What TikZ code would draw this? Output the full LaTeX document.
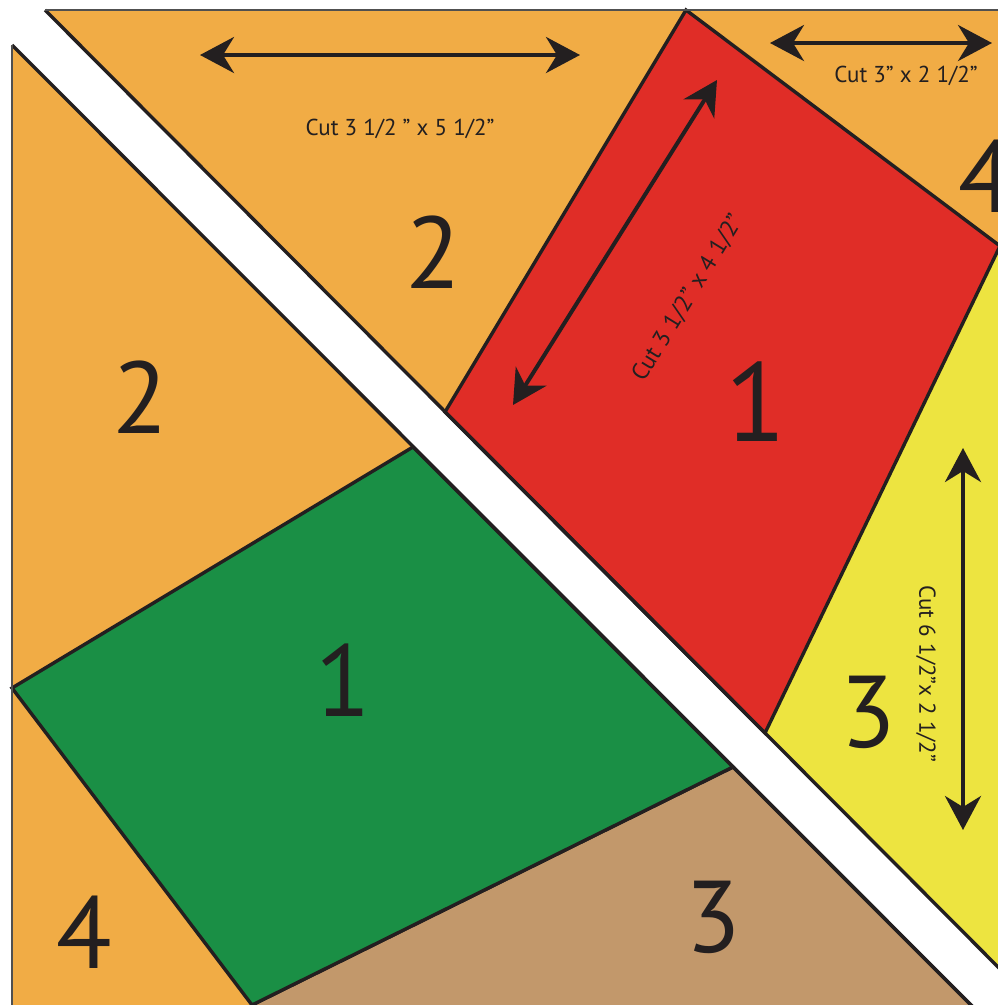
\documentclass[tikz,border=0pt]{standalone}
\usepackage{fontspec}
\setmainfont{PT Sans}
\usetikzlibrary{arrows.meta}
\definecolor{qorange}{RGB}{241,172,69}
\definecolor{qred}{RGB}{224,45,39}
\definecolor{qgreen}{RGB}{26,143,69}
\definecolor{qyellow}{RGB}{237,228,64}
\definecolor{qbrown}{RGB}{194,152,107}
\definecolor{qink}{RGB}{35,31,32}
\definecolor{qframe}{RGB}{80,80,80}
\begin{document}
\begin{tikzpicture}[x=1pt,y=-1pt,
  piece/.style={draw=qink, line width=3.4pt, line join=miter},
  frame/.style={draw=qframe, line width=1.5pt},
  bignum/.style={text=qink, inner sep=0pt, font=\fontsize{102}{102}\selectfont},
  cutlabel/.style={text=qink, inner sep=0pt, font=\fontsize{23}{23}\selectfont},
  cutarrow/.style={draw=qink, line width=4pt, {Stealth[length=34pt,width=36pt,inset=11pt]}-{Stealth[length=34pt,width=36pt,inset=11pt]}}]
\useasboundingbox (0,0) rectangle (998,1005);
\fill[white] (0,0) rectangle (998,1005);
\begin{scope}
\clip (0,0) rectangle (998,1005);
% corners
\coordinate (UA) at (45,10);
\coordinate (UB) at (1010,10);
\coordinate (UC) at (1010,979);
\coordinate (R1) at (686,10);
\coordinate (R2) at (1000,246);
\coordinate (R3) at (765,733);
\coordinate (R4) at (445,412);
\coordinate (LA) at (12,45);
\coordinate (LB) at (12,1020);
\coordinate (LC) at (986,1020);
\coordinate (G1) at (413,447);
\coordinate (G2) at (733,767);
\coordinate (G3) at (252,1005);
\coordinate (G4) at (12,688);
% upper triangle
\fill[qorange] (UA) -- (UB) -- (UC) -- cycle;
\fill[qyellow] (R2) -- (1010,222) -- (UC) -- (R3) -- cycle;
\filldraw[piece, fill=qred] (R1) -- (R2) -- (R3) -- (R4) -- cycle;
\draw[piece] (UA) -- (UC);
\draw[frame] (UA) -- (UB);
% lower triangle
\fill[qorange] (LA) -- (LB) -- (LC) -- cycle;
\filldraw[piece, fill=qbrown] (G2) -- (LC) -- (252,1020) -- (G3) -- cycle;
\filldraw[piece, fill=qgreen] (G1) -- (G2) -- (G3) -- (G4) -- cycle;
\draw[piece] (LA) -- (LC);
\draw[frame] (LA) -- (LB);
\end{scope}
% numbers
\node[bignum] (n2a) at (433,252) {2};
\node[bignum] (n2b) at (140,397) {2};
\node[bignum, font=\fontsize{112}{112}\selectfont] (n1a) at (756,402) {1};
\node[bignum] (n4a) at (986,176) {4};
\node[bignum] (n1b) at (343,680) {1};
\node[bignum] (n3a) at (868,712) {3};
\node[bignum] (n3b) at (713,917) {3};
\node[bignum] (n4b) at (84,932) {4};
% arrows
\coordinate (a1s) at (200,55);
\coordinate (a1e) at (580,55);
\coordinate (a2s) at (770,43);
\coordinate (a2e) at (992,43);
\coordinate (a3s) at (513,405);
\coordinate (a3e) at (717,80);
\coordinate (a4s) at (963,448);
\coordinate (a4e) at (963,830);
\draw[cutarrow] (a1s) -- (a1e);
\draw[cutarrow] (a2s) -- (a2e);
\draw[cutarrow] (a3s) -- (a3e);
\draw[cutarrow] (a4s) -- (a4e);
% labels
\node[cutlabel] (t1) at (400,129) {Cut 3 1/2 ” x 5 1/2”};
\node[cutlabel] (t2) at (906,76) {Cut 3” x 2 1/2”};
\node[cutlabel, font=\fontsize{24}{24}\selectfont, rotate=58.4] (t3) at (688,298) {Cut 3 1/2” x 4 1/2”};
\node[cutlabel, rotate=-90] (t4) at (926,674) {Cut 6 1/2”x 2 1/2”};
\end{tikzpicture}
\end{document}
